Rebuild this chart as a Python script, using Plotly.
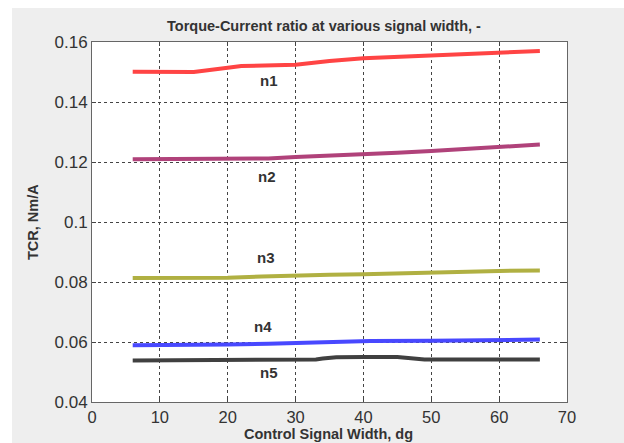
import plotly.graph_objects as go

# Data
x_n1 = [6, 10, 15, 20, 22, 30, 35, 40, 45, 50, 55, 60, 66]
y_n1 = [0.1501, 0.1500, 0.1500, 0.1514, 0.1520, 0.1524, 0.1537, 0.1546, 0.1551, 0.1557, 0.1561, 0.1567, 0.1570]

x_n2 = [6, 15, 24, 26, 30, 35, 40, 45, 50, 55, 60, 66]
y_n2 = [0.1209, 0.1209, 0.1210, 0.1212, 0.1217, 0.1221, 0.1225, 0.1231, 0.1237, 0.1244, 0.1250, 0.1258]

x_n3 = [6, 15, 20, 25, 30, 35, 40, 45, 50, 55, 60, 66]
y_n3 = [0.0813, 0.0813, 0.0814, 0.0818, 0.0822, 0.0824, 0.0826, 0.0829, 0.0831, 0.0835, 0.0837, 0.0838]

x_n4 = [6, 10, 11, 20, 26, 30, 36, 41, 50, 56, 66]
y_n4 = [0.0589, 0.0589, 0.0592, 0.0592, 0.0594, 0.0596, 0.0599, 0.0603, 0.0604, 0.0606, 0.0608]

x_n5 = [6, 20, 21, 33, 34, 36, 40, 45, 47, 49, 66]
y_n5 = [0.0538, 0.0539, 0.0541, 0.0542, 0.0545, 0.0549, 0.0550, 0.0550, 0.0546, 0.0542, 0.0542]

labels = ["n1", "n2", "n3", "n4", "n5"]
label_x = [26.1, 25.8, 25.6, 25.2, 26.1]
label_y = [0.1472, 0.1151, 0.0882, 0.0653, 0.0500]

x_ticks = [0, 10, 20, 30, 40, 50, 60, 70]
y_ticks = [0.04, 0.06, 0.08, 0.10, 0.12, 0.14, 0.16]
y_ticktext = ["0.04", "0.06", "0.08", "0.1", "0.12", "0.14", "0.16"]

title_text = "Torque-Current ratio at various signal width, -"
x_title = "Control Signal Width, dg"
y_title = "TCR, Nm/A"

colors = ["#ff4444", "#b0427a", "#b0b042", "#4848ff", "#404040"]

series = [(x_n1, y_n1), (x_n2, y_n2), (x_n3, y_n3), (x_n4, y_n4), (x_n5, y_n5)]

FONT = "Liberation Sans, Arial, Helvetica"
TXT = "#333333"

fig = go.Figure()
for (xs, ys), c, name in zip(series, colors, labels):
    fig.add_trace(go.Scatter(x=xs, y=ys, mode="lines", name=name,
                             line=dict(color=c, width=4), showlegend=False,
                             hoverinfo="skip"))

for t, lx, ly in zip(labels, label_x, label_y):
    fig.add_annotation(x=lx, y=ly, text="<b>" + t + "</b>", showarrow=False,
                       font=dict(family=FONT, size=15, color=TXT))

W, H = 624, 443
L, R, T, B = 92, 567, 42, 402
pw, ph = R - L, B - T

def px(p):
    return (p - L) / pw

def py(p):
    return (B - p) / ph

# white strips outside the gray figure frame
fig.add_shape(type="rect", xref="paper", yref="paper", x0=px(-5), x1=px(12), y0=py(460), y1=py(-5),
              fillcolor="white", line=dict(width=0), layer="below")
fig.add_shape(type="rect", xref="paper", yref="paper", x0=px(-5), x1=px(630), y0=py(8), y1=py(-5),
              fillcolor="white", line=dict(width=0), layer="below")

# title and axis titles placed as annotations
fig.add_annotation(xref="paper", yref="paper", x=px(324), y=py(26), text="<b>" + title_text + "</b>",
                   showarrow=False, xanchor="center", yanchor="middle",
                   font=dict(family=FONT, size=14.5, color=TXT))
fig.add_annotation(xref="paper", yref="paper", x=px(328), y=py(434), text="<b>" + x_title + "</b>",
                   showarrow=False, xanchor="center", yanchor="middle",
                   font=dict(family=FONT, size=14.5, color=TXT))
fig.add_annotation(xref="paper", yref="paper", x=px(33), y=py(222), text="<b>" + y_title + "</b>",
                   showarrow=False, xanchor="center", yanchor="middle", textangle=-90,
                   font=dict(family=FONT, size=14.5, color=TXT))

axis_common = dict(
    showline=True, linecolor="#666666", linewidth=1, mirror="ticks",
    ticks="inside", ticklen=4, tickcolor="#444444",
    showgrid=True, gridcolor="#444444", gridwidth=1, griddash="3px,3px",
    zeroline=False, automargin=False, fixedrange=True,
)

fig.update_layout(
    width=W, height=H, autosize=False,
    margin=dict(l=L, r=W - R, t=T, b=H - B, pad=0),
    paper_bgcolor="#eeeeee", plot_bgcolor="white",
    xaxis=dict(range=[0, 70], tickvals=x_ticks,
               tickfont=dict(family=FONT, size=16.5, color=TXT), **axis_common),
    yaxis=dict(range=[0.04, 0.16], tickvals=y_ticks, ticktext=y_ticktext,
               tickfont=dict(family=FONT, size=17, color=TXT), **axis_common),
)

fig.write_html("out.html",
               config={"displayModeBar": False},
               post_script="document.body.style.margin='0';document.body.style.overflow='hidden';")
